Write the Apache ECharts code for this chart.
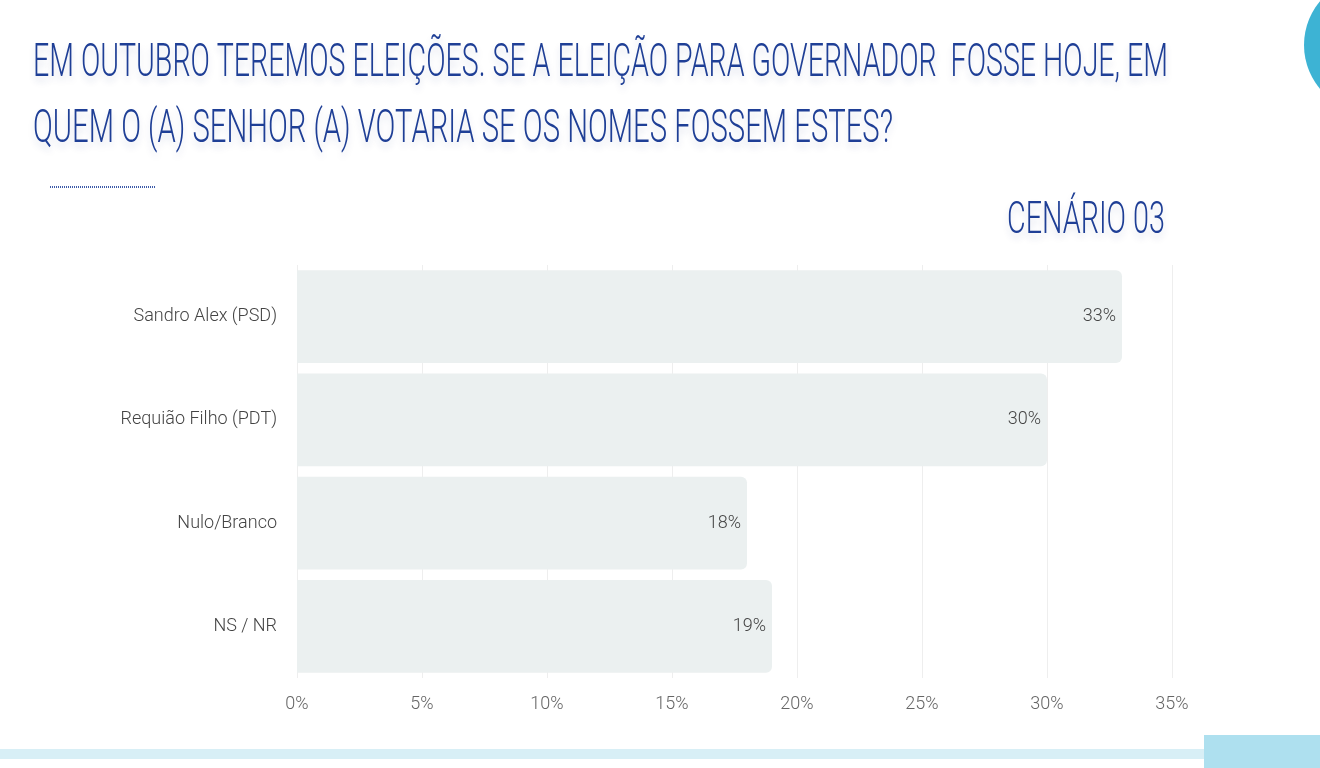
<!DOCTYPE html>
<html>
<head>
<meta charset="utf-8">
<script src="https://cdn.jsdelivr.net/npm/echarts@6/dist/echarts.min.js"></script>
<style>
html, body { margin: 0; padding: 0; background: #fff; }
#chart { width: 1320px; height: 768px; }
</style>
</head>
<body>
<div id="chart"></div>
<script>
var categories = ['Sandro Alex (PSD)', 'Requião Filho (PDT)', 'Nulo/Branco', 'NS / NR'];
var values = [33, 30, 18, 19];
var tickMax = 35;
var tickStep = 5;

var titleLines = [
  'EM OUTUBRO TEREMOS ELEIÇÕES. SE A ELEIÇÃO PARA GOVERNADOR  FOSSE HOJE, EM',
  'QUEM O (A) SENHOR (A) VOTARIA SE OS NOMES FOSSEM ESTES?'
];
var scenario = 'CENÁRIO 03';

var labelFont = 'Roboto, "Noto Sans", sans-serif';
var titleFont = 'Roboto, "Noto Sans", sans-serif';
var titleBlue = '#1f3f96';

// squeeze a line of text to a given width
var ctx = document.createElement('canvas').getContext('2d');
function squeeze(text, size, width) {
  ctx.font = '300 ' + size + 'px ' + titleFont;
  return width / ctx.measureText(text).width;
}

function titleText(text, x, y, width, size) {
  return {
    type: 'text',
    x: x,
    y: y,
    scaleX: squeeze(text, size, width),
    style: {
      text: text,
      fontFamily: titleFont,
      fontWeight: 300,
      fontSize: size,
      fill: titleBlue,
      textVerticalAlign: 'middle',
      textShadowColor: 'rgba(30,50,120,0.15)',
      textShadowBlur: 7,
      textShadowOffsetY: 5
    }
  };
}

var chart = echarts.init(document.getElementById('chart'));
var option = {
  backgroundColor: '#ffffff',
  animation: false,
  graphic: [
    { type: 'circle', shape: { cx: 1372, cy: 45, r: 68 }, style: { fill: '#3db3d4' } },
    titleText(titleLines[0], 33, 64, 1135, 46),
    titleText(titleLines[1], 33, 130, 860, 46),
    titleText(scenario, 1007, 222, 158, 44),
    { type: 'line', shape: { x1: 50, y1: 187, x2: 155, y2: 187 }, style: { stroke: '#3c5aa8', lineWidth: 2, lineDash: [1, 1] } },
    { type: 'rect', shape: { x: 0, y: 749, width: 1320, height: 10 }, style: { fill: '#d8eff6' } },
    { type: 'rect', shape: { x: 1204, y: 735, width: 116, height: 33 }, style: { fill: '#aee0ef' } }
  ],
  grid: { left: 297, right: 148, top: 265, bottom: 90 },
  xAxis: {
    type: 'value',
    min: 0,
    max: tickMax,
    interval: tickStep,
    axisLine: { show: false },
    axisTick: { show: false },
    splitLine: { show: true, lineStyle: { color: '#eeeeee', width: 1 } },
    axisLabel: {
      formatter: '{value}%',
      margin: 17,
      fontFamily: labelFont,
      fontWeight: 300,
      fontSize: 18,
      color: '#666666'
    }
  },
  yAxis: {
    type: 'category',
    data: categories,
    inverse: true,
    axisLine: { show: false },
    axisTick: { show: false },
    axisLabel: {
      margin: 20,
      fontFamily: labelFont,
      fontWeight: 300,
      fontSize: 18,
      color: '#444444'
    }
  },
  series: [{
    type: 'bar',
    data: values,
    barCategoryGap: '10%',
    itemStyle: { color: '#ebf0f0', borderRadius: [0, 6, 6, 0] },
    label: {
      show: true,
      position: 'insideRight',
      distance: 6,
      formatter: '{c}%',
      fontFamily: labelFont,
      fontWeight: 300,
      fontSize: 18,
      color: '#444444'
    }
  }]
};
chart.setOption(option);
</script>
</body>
</html>
